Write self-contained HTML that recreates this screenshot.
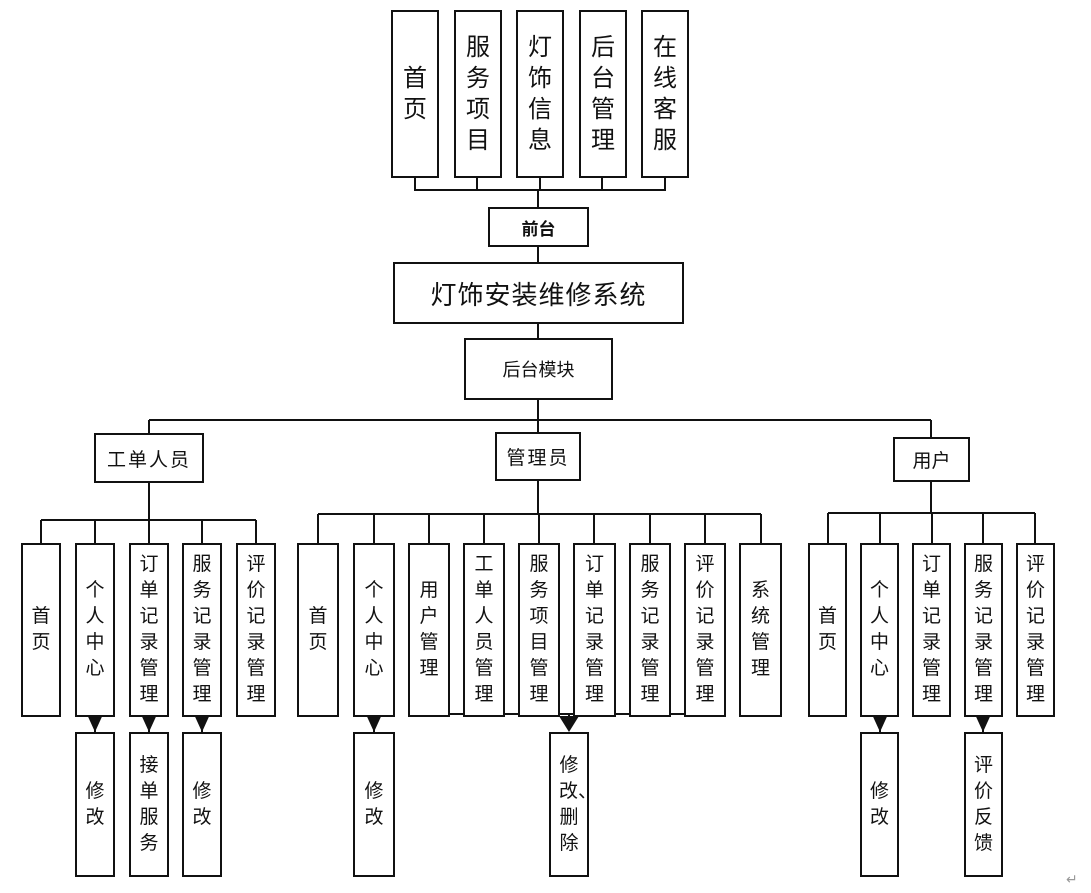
<!DOCTYPE html>
<html><head><meta charset="utf-8"><style>
body{margin:0;width:1091px;height:893px;background:#fff;position:relative;overflow:hidden;font-family:"Liberation Sans","Noto Sans CJK SC",sans-serif;color:#111}
.b{position:absolute;box-sizing:border-box;border:2px solid #111;background:#fff;display:flex;align-items:center;justify-content:center;text-align:center}
.v{font-size:19px;line-height:26px;width:20px;word-break:break-all}
.t{font-size:24px;line-height:31px;width:26px;word-break:break-all}
svg{position:absolute;left:0;top:0}
</style></head><body>
<svg width="1091" height="893">
<g stroke="#111" stroke-width="2" fill="none">
<path d="M415 177V190H665V177M477 177V190M540 177V190M602 177V190M538 190V207M538 247V262M538 323V338M538 400V420"/>
<path d="M149 420H931M149 420V433M538 420V433M931 420V437"/>
<path d="M149 483V520M41 520H256M41 520V543M95 520V543M149 520V543M202 520V543M256 520V543"/>
<path d="M538 481V514M318 514H761M318 514V543M374 514V543M429 514V543M484 514V543M539 514V543M594 514V543M650 514V543M705 514V543M761 514V543"/>
<path d="M931 482V513M828 513H1035M828 513V543M880 513V543M932 513V543M983 513V543M1035 513V543"/>
<path d="M95 717V716M95 717V733M149 717V733M202 717V733M374 717V733M880 717V733M983 717V733"/>
<path d="M429 717V714H705V717M484 714V717M539 714V717M594 714V717M650 714V717M569 714V716"/>
</g>
<g fill="#111">
<path d="M85 710H105L95 732Z"/><path d="M139 710H159L149 732Z"/><path d="M192 710H212L202 732Z"/>
<path d="M364 710H384L374 732Z"/><path d="M559 716H579L569 732Z"/>
<path d="M870 710H890L880 732Z"/><path d="M973 710H993L983 732Z"/>
</g>
<text x="1066" y="884" font-size="14" fill="#999">↵</text>
</svg>

<div class="b" style="left:391px;top:10px;width:48px;height:168px"><div class="t">首页</div></div>
<div class="b" style="left:454px;top:10px;width:48px;height:168px"><div class="t">服务项目</div></div>
<div class="b" style="left:516px;top:10px;width:48px;height:168px"><div class="t">灯饰信息</div></div>
<div class="b" style="left:579px;top:10px;width:48px;height:168px"><div class="t">后台管理</div></div>
<div class="b" style="left:641px;top:10px;width:48px;height:168px"><div class="t">在线客服</div></div>
<div class="b" style="left:488px;top:207px;width:101px;height:40px;font-size:17px;font-weight:bold">前台</div>
<div class="b" style="left:393px;top:262px;width:291px;height:62px;font-size:26px;letter-spacing:1px">灯饰安装维修系统</div>
<div class="b" style="left:464px;top:338px;width:149px;height:62px;font-size:18px">后台模块</div>

<div class="b" style="left:94px;top:433px;width:110px;height:50px;font-size:19px;letter-spacing:2px">工单人员</div>
<div class="b" style="left:495px;top:432px;width:86px;height:49px;font-size:19px;letter-spacing:2px">管理员</div>
<div class="b" style="left:893px;top:437px;width:77px;height:45px;font-size:19px">用户</div>

<div class="b" style="left:21px;top:543px;width:40px;height:174px"><div class="v">首页</div></div>
<div class="b" style="left:75px;top:543px;width:40px;height:174px"><div class="v">个人中心</div></div>
<div class="b" style="left:129px;top:543px;width:40px;height:174px"><div class="v">订单记录管理</div></div>
<div class="b" style="left:182px;top:543px;width:40px;height:174px"><div class="v">服务记录管理</div></div>
<div class="b" style="left:236px;top:543px;width:40px;height:174px"><div class="v">评价记录管理</div></div>

<div class="b" style="left:297px;top:543px;width:42px;height:174px"><div class="v">首页</div></div>
<div class="b" style="left:353px;top:543px;width:42px;height:174px"><div class="v">个人中心</div></div>
<div class="b" style="left:408px;top:543px;width:42px;height:174px"><div class="v">用户管理</div></div>
<div class="b" style="left:463px;top:543px;width:42px;height:174px"><div class="v">工单人员管理</div></div>
<div class="b" style="left:518px;top:543px;width:42px;height:174px"><div class="v">服务项目管理</div></div>
<div class="b" style="left:573px;top:543px;width:43px;height:174px"><div class="v">订单记录管理</div></div>
<div class="b" style="left:629px;top:543px;width:42px;height:174px"><div class="v">服务记录管理</div></div>
<div class="b" style="left:684px;top:543px;width:42px;height:174px"><div class="v">评价记录管理</div></div>
<div class="b" style="left:739px;top:543px;width:43px;height:174px"><div class="v">系统管理</div></div>

<div class="b" style="left:808px;top:543px;width:39px;height:174px"><div class="v">首页</div></div>
<div class="b" style="left:860px;top:543px;width:39px;height:174px"><div class="v">个人中心</div></div>
<div class="b" style="left:912px;top:543px;width:39px;height:174px"><div class="v">订单记录管理</div></div>
<div class="b" style="left:964px;top:543px;width:39px;height:174px"><div class="v">服务记录管理</div></div>
<div class="b" style="left:1016px;top:543px;width:39px;height:174px"><div class="v">评价记录管理</div></div>

<div class="b" style="left:75px;top:732px;width:40px;height:145px"><div class="v">修改</div></div>
<div class="b" style="left:129px;top:732px;width:40px;height:145px"><div class="v">接单服务</div></div>
<div class="b" style="left:182px;top:732px;width:40px;height:145px"><div class="v">修改</div></div>
<div class="b" style="left:353px;top:732px;width:42px;height:145px"><div class="v">修改</div></div>
<div class="b" style="left:549px;top:732px;width:40px;height:145px"><div class="v">修改、删除</div></div>
<div class="b" style="left:860px;top:732px;width:39px;height:145px"><div class="v">修改</div></div>
<div class="b" style="left:964px;top:732px;width:39px;height:145px"><div class="v">评价反馈</div></div>
</body></html>
